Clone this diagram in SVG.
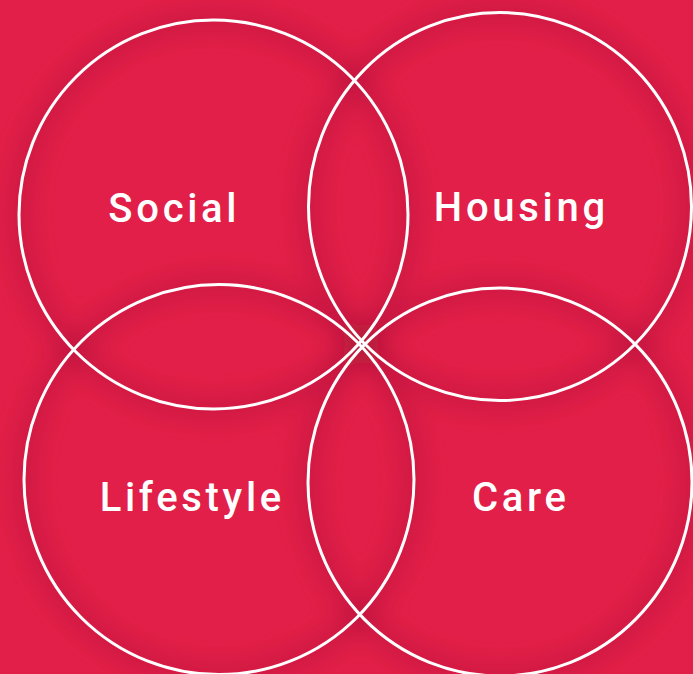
<svg xmlns="http://www.w3.org/2000/svg" width="693" height="674" viewBox="0 0 693 674">
  <defs>
    <style>
      .ring { fill: none; stroke: #ffffff; stroke-width: 3; }
      .shade { fill: none; stroke: #8a1030; stroke-width: 22; stroke-opacity: 0.24; }
      .label { font-family: Roboto, "Liberation Sans", sans-serif; font-size: 40px; font-weight: 500; fill: #ffffff; letter-spacing: 3.7px; text-anchor: middle; }
    </style>
    <filter id="soft" x="-20%" y="-20%" width="140%" height="140%">
      <feGaussianBlur stdDeviation="12"/>
    </filter>
  </defs>
  <rect x="0" y="0" width="693" height="674" fill="#E21F48"/>
  <g id="shadows" filter="url(#soft)">
    <ellipse class="shade" cx="213.5" cy="214.5" rx="194.5" ry="194.5"/>
    <ellipse class="shade" cx="500" cy="206.6" rx="191.5" ry="194"/>
    <ellipse class="shade" cx="219" cy="479.6" rx="195" ry="195"/>
    <ellipse class="shade" cx="500" cy="482" rx="192" ry="194"/>
  </g>
  <g id="social">
    <ellipse class="ring" cx="213.5" cy="214.5" rx="194.5" ry="194.5"/>
    <text class="label" x="174.3" y="222">Social</text>
  </g>
  <g id="housing">
    <ellipse class="ring" cx="500" cy="206.6" rx="191.5" ry="194"/>
    <text class="label" x="521.3" y="221">Housing</text>
  </g>
  <g id="lifestyle">
    <ellipse class="ring" cx="219" cy="479.6" rx="195" ry="195"/>
    <text class="label" x="192.3" y="511">Lifestyle</text>
  </g>
  <g id="care">
    <ellipse class="ring" cx="500" cy="482" rx="192" ry="194"/>
    <text class="label" x="520.8" y="511">Care</text>
  </g>
</svg>
